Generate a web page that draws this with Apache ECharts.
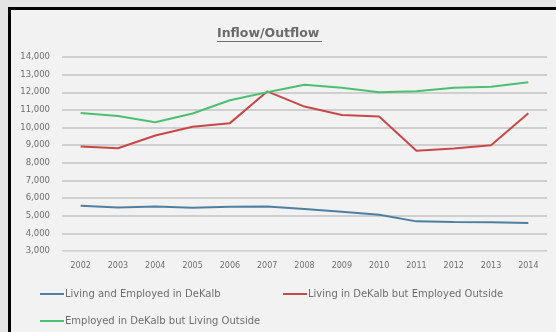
<!DOCTYPE html>
<html>
<head>
<meta charset="utf-8">
<script src="https://cdn.jsdelivr.net/npm/echarts@6/dist/echarts.min.js"></script>
<style>
  html, body { margin: 0; padding: 0; background: #e4e4e4; }
  #chart { width: 556px; height: 332px; }
</style>
</head>
<body>
<div id="chart"></div>
<script>
// Commuting flows for DeKalb, 2002–2014
const years = ['2002','2003','2004','2005','2006','2007','2008','2009','2010','2011','2012','2013','2014'];
const livingAndEmployed = [5570, 5470, 5530, 5450, 5510, 5530, 5380, 5230, 5050, 4680, 4650, 4630, 4590];
const livingInEmployedOut = [8930, 8830, 9550, 10050, 10250, 12050, 11190, 10710, 10620, 8680, 8810, 9000, 10810];
const employedInLivingOut = [10830, 10650, 10300, 10800, 11550, 12000, 12430, 12250, 12000, 12060, 12250, 12310, 12570];

const seriesNames = [
  'Living and Employed in DeKalb',
  'Living in DeKalb but Employed Outside',
  'Employed in DeKalb but Living Outside'
];
const seriesColors = ['#4f7fa0', '#c8484a', '#4cbf72'];

const FONT = 'DejaVu Sans';
const TEXT = '#6e6e6e';

const chart = echarts.init(document.getElementById('chart'), null, { renderer: 'canvas' });

function legendAt(name, left, top) {
  return {
    data: [name],
    left: left,
    top: top,
    icon: 'rect',
    itemWidth: 24,
    itemHeight: 2,
    itemGap: 0,
    padding: 0,
    textStyle: { fontFamily: FONT, fontSize: 10, color: TEXT, padding: [0, 0, 0, -4] }
  };
}

chart.setOption({
  backgroundColor: '#e4e4e4',
  animation: false,
  graphic: [
    // chart panel with a heavy frame on its left and top edges
    { type: 'rect', z: -10, shape: { x: 10, y: 9, width: 546, height: 323 }, style: { fill: '#f2f2f2' } },
    { type: 'rect', z: -9, shape: { x: 8, y: 7, width: 548, height: 3 }, style: { fill: '#000' } },
    { type: 'rect', z: -9, shape: { x: 8, y: 7, width: 3, height: 325 }, style: { fill: '#000' } },
    // title underline
    { type: 'line', z: 10, shape: { x1: 217, y1: 41.5, x2: 322, y2: 41.5 }, style: { stroke: '#707070', lineWidth: 1 } }
  ],
  title: {
    text: 'Inflow/Outflow',
    left: 217,
    top: 27,
    padding: 0,
    textStyle: { fontFamily: FONT, fontSize: 12.5, fontWeight: 'bold', color: '#6a6a6a' }
  },
  grid: { left: 62, right: 9, top: 57, bottom: 81, containLabel: false },
  xAxis: {
    type: 'category',
    data: years,
    boundaryGap: true,
    axisLine: { show: true, lineStyle: { color: '#dcdcdc', width: 1 } },
    axisTick: { show: false },
    axisLabel: { fontFamily: FONT, fontSize: 8, color: TEXT, margin: 11 }
  },
  yAxis: {
    type: 'value',
    min: 3000,
    max: 14000,
    interval: 1000,
    axisLine: { show: false },
    axisTick: { show: false },
    axisLabel: {
      fontFamily: FONT, fontSize: 8.5, color: TEXT, margin: 12,
      formatter: v => v.toLocaleString('en-US')
    },
    splitLine: { lineStyle: { color: '#c3c3c3', width: 1.5 } }
  },
  legend: [
    legendAt(seriesNames[0], 40, 289),
    legendAt(seriesNames[1], 283, 289),
    legendAt(seriesNames[2], 40, 316)
  ],
  series: [livingAndEmployed, livingInEmployedOut, employedInLivingOut].map((d, i) => ({
    name: seriesNames[i],
    type: 'line',
    data: d,
    symbol: 'none',
    color: seriesColors[i],
    lineStyle: { width: 2, color: seriesColors[i] }
  }))
});
</script>
</body>
</html>
